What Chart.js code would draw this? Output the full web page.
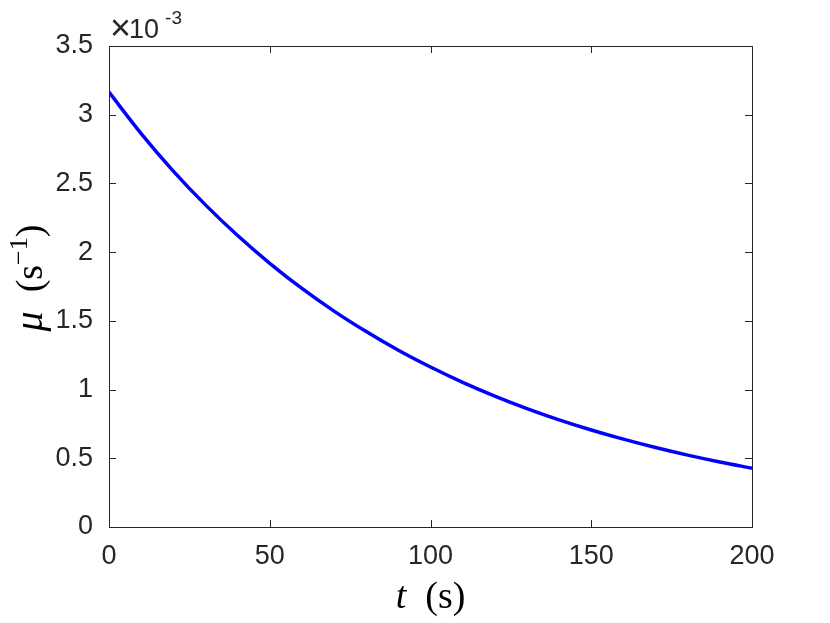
<!DOCTYPE html>
<html>
<head>
<meta charset="utf-8">
<script src="https://cdn.jsdelivr.net/npm/chart.js@4"></script>
<style>
    html, body { margin: 0; padding: 0; background: #fff; }
    #wrap { position: relative; width: 830px; height: 623px; }
</style>
</head>
<body>
<div id="wrap"><canvas id="chart"></canvas></div>
<script>
// time axis (s) and decay rate (x 1e-3 s^-1)
const times = [0, 10, 20, 30, 40, 50, 60, 70, 80, 90, 100, 110, 120, 130, 140, 150, 160, 170, 180, 190, 200];
const mu = [3.164, 2.863, 2.590, 2.344, 2.121, 1.919, 1.736, 1.571, 1.422, 1.286, 1.164, 1.053, 0.953, 0.862, 0.780, 0.706, 0.639, 0.578, 0.523, 0.473, 0.428];
const xTicks = [0, 50, 100, 150, 200];
const yTicks = [0, 0.5, 1, 1.5, 2, 2.5, 3, 3.5];

const sans = "'Liberation Sans', Arial, sans-serif";
const serif = "'Liberation Serif', 'DejaVu Serif', serif";
const axisGrey = '#262626';

// MATLAB style box, inward ticks, axis titles and exponent label
const matlabAxes = {
    id: 'matlabAxes',
    afterDraw(chart) {
        const ctx = chart.ctx;
        const a = chart.chartArea;
        const xs = chart.scales.x;
        const ys = chart.scales.y;
        ctx.save();
        ctx.strokeStyle = axisGrey;
        ctx.lineWidth = 1;
        ctx.strokeRect(a.left + 0.5, a.top + 0.5, a.right - a.left, a.bottom - a.top);
        ctx.beginPath();
        xTicks.forEach(v => {
            const px = Math.round(xs.getPixelForValue(v)) + 0.5;
            ctx.moveTo(px, a.bottom); ctx.lineTo(px, a.bottom - 7);
            ctx.moveTo(px, a.top); ctx.lineTo(px, a.top + 7);
        });
        yTicks.forEach(v => {
            const py = Math.round(ys.getPixelForValue(v)) + 0.5;
            ctx.moveTo(a.left, py); ctx.lineTo(a.left + 7, py);
            ctx.moveTo(a.right, py); ctx.lineTo(a.right - 7, py);
        });
        ctx.stroke();

        ctx.fillStyle = axisGrey;
        // exponent label
        ctx.textBaseline = 'alphabetic';
        ctx.textAlign = 'left';
        ctx.font = '36px ' + sans;
        ctx.fillText('\u00d7', a.left + 1, 40);
        const xw = ctx.measureText('\u00d7').width;
        ctx.font = '27px ' + sans;
        ctx.fillText('10', a.left + xw - 1, 38);
        const w = ctx.measureText('10').width;
        ctx.font = '19px ' + sans;
        ctx.fillText('-3', a.left + xw + w + 5, 24);

        // x title
        ctx.fillStyle = '#000';
        ctx.font = 'italic 38px ' + serif;
        const tW = ctx.measureText('t').width;
        ctx.font = '38px ' + serif;
        const sW = ctx.measureText('  (s)').width;
        let x0 = (a.left + a.right) / 2 - (tW + sW) / 2;
        ctx.font = 'italic 38px ' + serif;
        ctx.fillText('t', x0, 608);
        ctx.font = '38px ' + serif;
        ctx.fillText('  (s)', x0 + tW, 608);

        // y title, rotated
        ctx.translate(42, 278);
        ctx.rotate(-Math.PI / 2);
        const parts = [
            { t: '\u03bc', f: 'italic 40px ' + serif, dy: 0 },
            { t: '  (s', f: '38px ' + serif, dy: 0 },
            { t: '\u22121', f: '26px ' + serif, dy: -15 },
            { t: ')', f: '38px ' + serif, dy: 0 }
        ];
        let total = 0;
        parts.forEach(p => { ctx.font = p.f; p.w = ctx.measureText(p.t).width; total += p.w; });
        let cx = -total / 2;
        parts.forEach(p => {
            ctx.font = p.f;
            ctx.fillText(p.t, cx, p.dy);
            cx += p.w;
        });
        ctx.restore();
    }
};

new Chart(document.getElementById('chart'), {
    type: 'line',
    data: {
        labels: times,
        datasets: [{
            data: times.map((t, i) => ({ x: t, y: mu[i] })),
            borderColor: '#0000ff',
            borderWidth: 3.5,
            pointRadius: 0,
            fill: false,
            cubicInterpolationMode: 'monotone'
        }]
    },
    options: {
        responsive: true,
        maintainAspectRatio: false,
        animation: false,
        layout: { padding: { left: 0, right: 78, top: 46, bottom: 0 } },
        plugins: { legend: { display: false }, tooltip: { enabled: false } },
        scales: {
            x: {
                type: 'linear',
                min: 0,
                max: 200,
                afterBuildTicks(scale) { scale.ticks = xTicks.map(v => ({ value: v })); },
                afterFit(scale) { scale.height = 96; },
                grid: { display: false, drawTicks: false },
                border: { display: false },
                ticks: { color: axisGrey, padding: 13, maxRotation: 0, font: { family: sans, size: 27 }, callback: v => String(v) }
            },
            y: {
                min: 0,
                max: 3.5,
                afterBuildTicks(scale) { scale.ticks = yTicks.map(v => ({ value: v })); },
                afterFit(scale) { scale.width = 109; },
                grid: { display: false, drawTicks: false },
                border: { display: false },
                ticks: { color: axisGrey, padding: 16, font: { family: sans, size: 27 }, callback: v => String(v) }
            }
        }
    },
    plugins: [matlabAxes]
});
</script>
</body>
</html>
